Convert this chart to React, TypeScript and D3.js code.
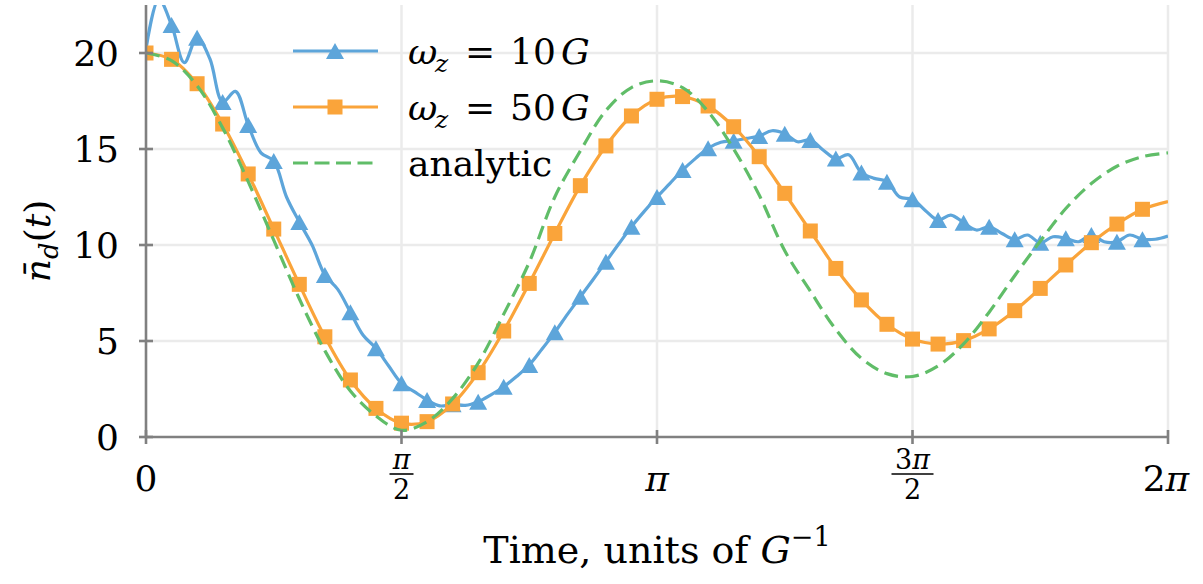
import React from "react";
import * as d3 from "d3";

const W = 1203;
const H = 584;
const PI = Math.PI;

// omega_z = 10G, sampled every pi/40 (markers on every second sample)
const blueValues = [
  20.2, 22.8, 21.46, 19.5, 20.8, 19.7, 17.45, 18.0, 16.25, 14.8,
  14.37, 12.5, 11.2, 10.0, 8.44, 7.7, 6.5, 5.3, 4.62, 3.7,
  2.8, 2.36, 1.93, 1.62, 1.7, 1.65, 1.84, 2.2, 2.62, 3.15,
  3.75, 4.58, 5.45, 6.4, 7.3, 8.2, 9.13, 10.05, 10.95, 11.75,
  12.5, 13.2, 13.9, 14.5, 15.04, 15.35, 15.43, 15.55, 15.68, 15.95,
  15.8, 15.38, 15.47, 14.95, 14.5, 14.7, 13.77, 13.47, 13.3, 12.5,
  12.38, 11.8, 11.3, 11.56, 11.16, 10.78, 10.95, 10.6, 10.3, 10.52,
  10.12, 10.43, 10.35, 10.17, 10.52, 10.17, 10.17, 10.52, 10.3, 10.3,
  10.47,
];

// omega_z = 50G, sampled every pi/20
const orangeValues = [
  20.0, 19.67, 18.4, 16.3, 13.7, 10.83, 7.95, 5.22, 2.97, 1.49,
  0.72, 0.8, 1.72, 3.35, 5.52, 8.0, 10.6, 13.09, 15.16, 16.72,
  17.59, 17.73, 17.24, 16.16, 14.6, 12.69, 10.73, 8.78, 7.14, 5.87,
  5.1, 4.84, 5.02, 5.63, 6.58, 7.74, 8.96, 10.12, 11.09, 11.86,
  12.26,
];

// analytic, sampled every pi/20
const greenValues = [
  20.0, 19.6, 18.3, 16.1, 13.3, 10.25, 7.2, 4.5, 2.4, 1.1,
  0.35, 0.8, 2.0, 3.85, 6.4, 9.1, 12.5, 14.9, 17.0, 18.2,
  18.55, 18.2, 16.95, 15.0, 12.6, 9.7, 7.6, 5.6, 4.1, 3.3,
  3.15, 3.7, 4.85, 6.5, 8.4, 10.2, 11.9, 13.2, 14.1, 14.6,
  14.8,
];

const yTicks = [0, 5, 10, 15, 20];
const xTicks = [0, PI / 2, PI, (3 * PI) / 2, 2 * PI];

const BLUE = "#5DA5DA";
const ORANGE = "#FAA43A";
const GREEN = "#60BD68";
const AXIS = "#808080";
const GRID = "#ebebeb";
const FONT = "DejaVu Serif";

const x = d3.scaleLinear().domain([0, 2 * PI]).range([146, 1168]);
const y = d3.scaleLinear().domain([0, 22.5]).range([437, 5]);

type P = [number, number];
const bluePts: P[] = blueValues.map((v, j) => [(j * PI) / 40, v]);
const orangePts: P[] = orangeValues.map((v, k) => [(k * PI) / 20, v]);
const greenPts: P[] = greenValues.map((v, k) => [(k * PI) / 20, v]);

const line = d3
  .line<P>()
  .x((d) => x(d[0]))
  .y((d) => y(d[1]))
  .curve(d3.curveCatmullRom.alpha(0.5));

const blueMarkers = bluePts.filter((_, j) => j % 2 === 0 && j > 0 && j < 80);
const orangeMarkers = orangePts.filter((_, k) => k < 40);

const tri = "M0,-8L9,8L-9,8Z";
const LW = 3.2;

function Triangle({ cx, cy }: { cx: number; cy: number }) {
  return <path d={tri} transform={`translate(${cx},${cy})`} fill={BLUE} />;
}
function Square({ cx, cy }: { cx: number; cy: number }) {
  return <rect x={cx - 7.5} y={cy - 7.5} width={15} height={15} fill={ORANGE} />;
}

const FS = 36;
const FRAC = 27;

function XTickLabel({ i, cx }: { i: number; cx: number }) {
  const base = 491;
  if (i === 0)
    return (
      <text x={cx} y={base} textAnchor="middle" fontSize={FS}>
        0
      </text>
    );
  if (i === 2)
    return (
      <text x={cx} y={base} textAnchor="middle" fontSize={FS} fontStyle="italic">
        π
      </text>
    );
  if (i === 4)
    return (
      <text x={cx - 2} y={base} textAnchor="middle" fontSize={FS}>
        2<tspan fontStyle="italic">π</tspan>
      </text>
    );
  const num = i === 1 ? "" : "3";
  const bw = i === 1 ? 24 : 42;
  return (
    <g>
      <text x={cx} y={469} textAnchor="middle" fontSize={FRAC}>
        {num}
        <tspan fontStyle="italic">π</tspan>
      </text>
      <line x1={cx - bw / 2} x2={cx + bw / 2} y1={474} y2={474} stroke="#000" strokeWidth={1.6} />
      <text x={cx} y={499} textAnchor="middle" fontSize={FRAC}>
        2
      </text>
    </g>
  );
}

const legendRows = [
  { kind: "blue", num: "10" },
  { kind: "orange", num: "50" },
  { kind: "green", num: "" },
];

export default function App() {
  return (
    <svg
      width={W}
      height={H}
      viewBox={`0 0 ${W} ${H}`}
      style={{ position: "absolute", left: 0, top: 0, background: "#fff", fontFamily: FONT }}
    >
      <defs>
        <clipPath id="plot">
          <rect x={x(0)} y={y(22.5)} width={x(2 * PI) - x(0)} height={y(0) - y(22.5)} />
        </clipPath>
      </defs>
      <rect x={0} y={0} width={W} height={H} fill="#fff" />

      {/* grid */}
      {yTicks
        .filter((t) => t > 0)
        .map((t) => (
          <line key={"gy" + t} x1={x(0)} x2={x(2 * PI)} y1={y(t)} y2={y(t)} stroke={GRID} strokeWidth={2.5} />
        ))}
      {xTicks
        .filter((t) => t > 0)
        .map((t, i) => (
          <line key={"gx" + i} x1={x(t)} x2={x(t)} y1={y(22.5)} y2={y(0)} stroke={GRID} strokeWidth={2.5} />
        ))}

      {/* data */}
      <g clipPath="url(#plot)">
        <path d={line(bluePts) || ""} fill="none" stroke={BLUE} strokeWidth={LW} strokeLinejoin="round" />
        {blueMarkers.map((d, i) => (
          <Triangle key={"b" + i} cx={x(d[0])} cy={y(d[1])} />
        ))}
        <path d={line(orangePts) || ""} fill="none" stroke={ORANGE} strokeWidth={LW} strokeLinejoin="round" />
        {orangeMarkers.map((d, i) => (
          <Square key={"o" + i} cx={x(d[0])} cy={y(d[1])} />
        ))}
        <path d={line(greenPts) || ""} fill="none" stroke={GREEN} strokeWidth={LW} strokeDasharray="14,7" />
      </g>

      {/* axes */}
      <line x1={x(0)} x2={x(0)} y1={y(22.5)} y2={y(0)} stroke={AXIS} strokeWidth={2.6} />
      <line x1={x(0)} x2={x(2 * PI)} y1={y(0)} y2={y(0)} stroke={AXIS} strokeWidth={2.6} />
      {yTicks.map((t) => (
        <g key={"yt" + t}>
          <line x1={x(0) - 7} x2={x(0) + 7} y1={y(t)} y2={y(t)} stroke={AXIS} strokeWidth={2.6} />
          <text x={119} y={y(t)} dy="0.36em" textAnchor="end" fontSize={FS}>
            {t}
          </text>
        </g>
      ))}
      {xTicks.map((t, i) => (
        <g key={"xt" + i}>
          <line x1={x(t)} x2={x(t)} y1={y(0) - 7} y2={y(0) + 7} stroke={AXIS} strokeWidth={2.6} />
          <XTickLabel i={i} cx={x(t)} />
        </g>
      ))}

      {/* axis labels */}
      <text x={(x(0) + x(2 * PI)) / 2} y={563} textAnchor="middle" fontSize={38}>
        Time, units of <tspan fontStyle="italic">G</tspan>
        <tspan fontSize={27} dy={-17}>−1</tspan>
      </text>
      <text transform="translate(50,241) rotate(-90)" textAnchor="middle" fontSize={FS}>
        <tspan fontStyle="italic">{"n\u0304"}</tspan>
        <tspan fontStyle="italic" fontSize={26} dy={8}>d</tspan>
        <tspan dy={-8}>(</tspan>
        <tspan fontStyle="italic">t</tspan>
        <tspan>)</tspan>
      </text>

      {/* legend */}
      {legendRows.map((r, i) => {
        const ly = 51 + 56 * i;
        const color = r.kind === "blue" ? BLUE : r.kind === "orange" ? ORANGE : GREEN;
        return (
          <g key={"lg" + i}>
            <line
              x1={293}
              x2={378}
              y1={ly}
              y2={ly}
              stroke={color}
              strokeWidth={LW}
              strokeDasharray={r.kind === "green" ? "15,6.5" : undefined}
            />
            {r.kind === "blue" && <Triangle cx={335} cy={ly} />}
            {r.kind === "orange" && <Square cx={335} cy={ly} />}
            {r.kind === "green" ? (
              <text x={408} y={ly} dy="0.36em" fontSize={FS}>
                analytic
              </text>
            ) : (
              <text y={ly} dy="0.36em" fontSize={FS}>
                <tspan x={408} fontStyle="italic">ω</tspan>
                <tspan x={435} fontStyle="italic" fontSize={25} dy={8}>z</tspan>
                <tspan x={465} dy={-8}>=</tspan>
                <tspan x={510}>{r.num}</tspan>
                <tspan x={561} fontStyle="italic">G</tspan>
              </text>
            )}
          </g>
        );
      })}
    </svg>
  );
}
